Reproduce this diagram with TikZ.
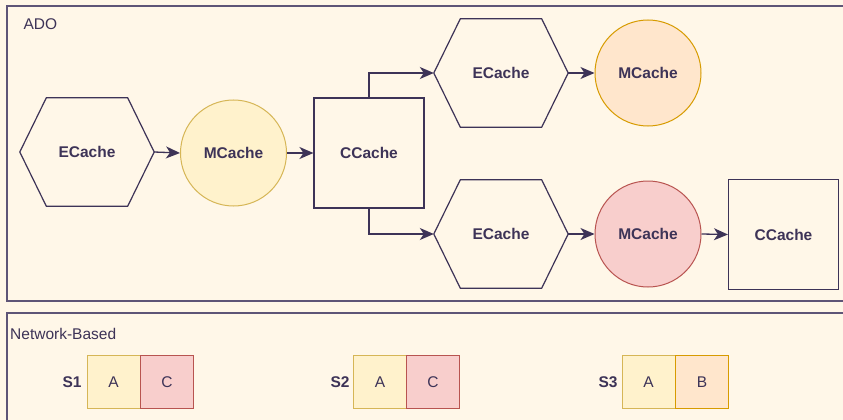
\documentclass[tikz,border=0pt]{standalone}
\usepackage{fontspec}
\setmainfont{Liberation Sans}
\usepackage{tikz}
\usetikzlibrary{arrows.meta}

\definecolor{cream}{HTML}{FFF7E8}
\definecolor{ink}{HTML}{3D3357}
\definecolor{frameline}{HTML}{5E5577}
\definecolor{yelfill}{HTML}{FFF2CC}
\definecolor{yelline}{HTML}{D6B656}
\definecolor{orgfill}{HTML}{FFE6CC}
\definecolor{orgline}{HTML}{D79B00}
\definecolor{redfill}{HTML}{F8CECC}
\definecolor{redline}{HTML}{B85450}

% contour hexagonal autour d'un noeud
\newcommand{\hexout}[1]{%
  \draw[draw=ink, line width=1.2pt, line join=miter]
    (#1.west) -- ([xshift=26.5pt]#1.north west) -- ([xshift=-26.5pt]#1.north east)
    -- (#1.east) -- ([xshift=-26.5pt]#1.south east) -- ([xshift=26.5pt]#1.south west)
    -- cycle;}

\tikzset{
  every node/.style={font=\fontsize{15.5}{18}\selectfont, text=ink},
  hexnode/.style={rectangle, minimum width=134pt, minimum height=108pt,
    inner sep=0pt, font=\fontsize{15.5}{18}\selectfont\bfseries},
  cachecirc/.style={circle, line width=1pt, minimum size=106pt, inner sep=0pt,
    font=\fontsize{15.5}{18}\selectfont\bfseries},
  cachebox/.style={rectangle, draw=ink, line width=1.1pt, minimum size=110pt,
    inner sep=0pt, font=\fontsize{15.5}{18}\selectfont\bfseries},
  cell/.style={rectangle, line width=1pt, minimum size=53pt, inner sep=0pt},
  flow/.style={draw=ink, line width=1.3pt, ->},
  frame/.style={draw=frameline, line width=1.6pt}
}

\begin{document}
\begin{tikzpicture}[x=1pt, y=-1pt, >={Stealth[length=14pt, width=12pt, inset=4pt]}]
    % fond
    \fill[cream] (0,0) rectangle (843,420);
    \useasboundingbox (0,0) rectangle (843,420);
    \clip (0,0) rectangle (843,420);

    % cadres
    \draw[frame] (7,6) rectangle (860,301);
    \draw[frame] (7,313) rectangle (860,440);
    \node[anchor=west] (ado) at (20,24) {ADO};
    \node[anchor=west, inner sep=0pt] (net) at (10,334) {Network-Based};

    % premier niveau
    \node[hexnode] (e1) at (87,152) {ECache};
    \node[cachecirc, draw=yelline, fill=yelfill] (m1) at (233.5,153) {MCache};
    \node[cachebox] (c1) at (369,153) {CCache};

    % branche du haut
    \node[hexnode] (e2) at (501,73) {ECache};
    \node[cachecirc, draw=orgline, fill=orgfill] (m2) at (648,73) {MCache};

    % branche du bas
    \node[hexnode] (e3) at (501,234) {ECache};
    \node[cachecirc, draw=redline, fill=redfill] (m3) at (648,234) {MCache};
    \node[cachebox] (c2) at (783.5,234.5) {CCache};

    \hexout{e1}
    \hexout{e2}
    \hexout{e3}

    % fleches
    \draw[flow] (e1.east) -- (m1.west);
    \draw[flow] (m1.east) -- (c1.west);
    \draw[flow] (c1.north) |- (e2.west);
    \draw[flow] (c1.south) |- (e3.west);
    \draw[flow] (e2.east) -- (m2.west);
    \draw[flow] (e3.east) -- (m3.west);
    \draw[flow] (m3.east) -- (c2.west);

    % serveurs
    \node[font=\fontsize{15.5}{18}\selectfont\bfseries] (s1) at (72,382) {S1};
    \node[cell, draw=yelline, fill=yelfill] (s1a) at (113.5,382) {A};
    \node[cell, draw=redline, fill=redfill] (s1c) at (167,382) {C};

    \node[font=\fontsize{15.5}{18}\selectfont\bfseries] (s2) at (340,382) {S2};
    \node[cell, draw=yelline, fill=yelfill] (s2a) at (380,382) {A};
    \node[cell, draw=redline, fill=redfill] (s2c) at (433,382) {C};

    \node[font=\fontsize{15.5}{18}\selectfont\bfseries] (s3) at (608,382) {S3};
    \node[cell, draw=yelline, fill=yelfill] (s3a) at (648.5,382) {A};
    \node[cell, draw=orgline, fill=orgfill] (s3b) at (702,382) {B};

\end{tikzpicture}
\end{document}
